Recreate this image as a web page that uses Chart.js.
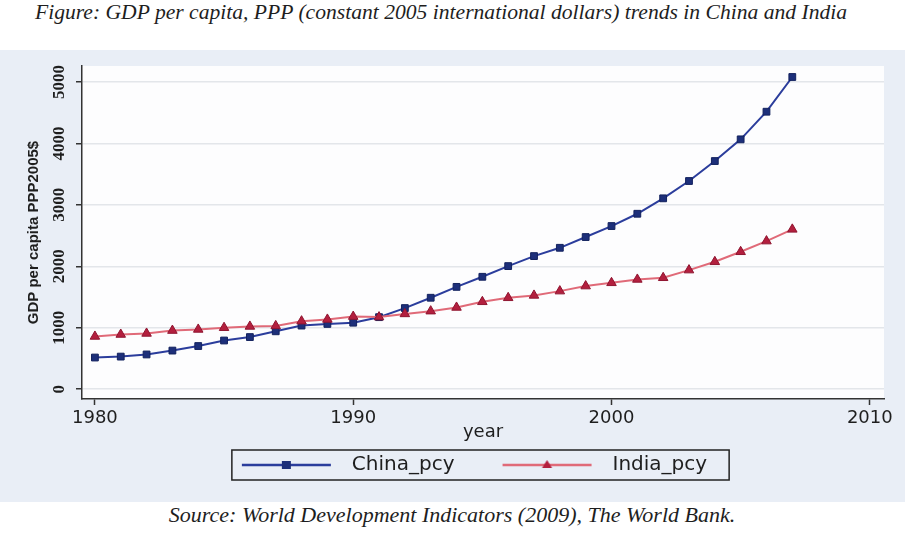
<!DOCTYPE html>
<html>
<head>
<meta charset="utf-8">
<script src="https://cdn.jsdelivr.net/npm/chart.js@4.4.1/dist/chart.umd.min.js"></script>
<style>
body { margin: 0; background: #fff; width: 910px; height: 546px; overflow: hidden; position: relative; }
#title { position: absolute; top: 0; left: 0; width: 882px; height: 50px; line-height: 37px; text-align: center; font: italic 21.6px "Liberation Serif", serif; color: #1e1e1e; }
#panel { position: absolute; top: 50px; left: 0; width: 905px; height: 452px; background: #e9eef6; }
#source { position: absolute; top: 502px; left: 0; width: 904px; height: 44px; line-height: 52px; text-align: center; font: italic 22px "Liberation Serif", serif; color: #1e1e1e; }
</style>
</head>
<body>
<div id="title">Figure: GDP per capita, PPP (constant 2005 international dollars) trends in China and India</div>
<div id="panel"><canvas id="myChart" width="905" height="452"></canvas></div>
<div id="source">Source: World Development Indicators (2009), The World Bank.</div>
<script>
var years = [1980, 1981, 1982, 1983, 1984, 1985, 1986, 1987, 1988, 1989,
             1990, 1991, 1992, 1993, 1994, 1995, 1996, 1997, 1998, 1999,
             2000, 2001, 2002, 2003, 2004, 2005, 2006, 2007];
var chinaPcy = [515, 530, 565, 628, 702, 792, 848, 942, 1035, 1062,
                1082, 1172, 1320, 1488, 1665, 1829, 2003, 2166, 2301, 2476,
                2655, 2855, 3106, 3388, 3713, 4066, 4516, 5081];
var indiaPcy = [858, 890, 907, 954, 972, 1000, 1021, 1030, 1107, 1135,
                1182, 1173, 1225, 1270, 1330, 1422, 1487, 1526, 1596, 1678,
                1731, 1786, 1813, 1938, 2073, 2236, 2410, 2601];
var xTicks = [1980, 1990, 2000, 2010];
var yTicks = [0, 1000, 2000, 3000, 4000, 5000];

function points(values) {
    return years.map(function(y, i) { return {x: y, y: values[i]}; });
}

// line + marker picture for the legend (blank on the left, line 89px)
function legendSample(lineColor, markColor, shape) {
    var c = document.createElement('canvas');
    c.width = 133;
    c.height = 14;
    var g = c.getContext('2d');
    g.strokeStyle = lineColor;
    g.lineWidth = 2.5;
    g.beginPath();
    g.moveTo(33, 7);
    g.lineTo(122, 7);
    g.stroke();
    g.fillStyle = markColor;
    if (shape === 'rect') {
        g.fillRect(73, 3, 9, 8);
    } else {
        g.beginPath();
        g.moveTo(77.5, 2);
        g.lineTo(82.5, 10);
        g.lineTo(72.5, 10);
        g.closePath();
        g.fill();
    }
    return c;
}
var samples = [
    legendSample('#2b3d9c', '#1d2f7a', 'rect'),
    legendSample('#e06a78', '#b31f3e', 'tri')
];

var decor = {
    id: 'decor',
    afterLayout: function(chart) {
        var lg = chart.legend;
        lg.left += 16;
        lg.right += 16;
        lg.top -= 3;
        lg.bottom -= 3;
    },
    beforeDraw: function(chart) {
        var a = chart.chartArea, ctx = chart.ctx;
        ctx.save();
        ctx.fillStyle = '#fdfdfe';
        ctx.fillRect(a.left, a.top, a.right - a.left, a.bottom - a.top);
        ctx.restore();
    },
    afterDraw: function(chart) {
        var ctx = chart.ctx, y = chart.scales.y;
        ctx.save();
        ctx.fillStyle = '#1e1e1e';
        ctx.font = 'bold 17px "Liberation Serif"';
        ctx.textAlign = 'center';
        ctx.textBaseline = 'middle';
        yTicks.forEach(function(v) {
            ctx.save();
            ctx.translate(60, y.getPixelForValue(v));
            ctx.rotate(-Math.PI / 2);
            ctx.fillText(String(v), 0, 0);
            ctx.restore();
        });
        var boxes = chart.legend.legendHitBoxes;
        var first = boxes[0], last = boxes[boxes.length - 1];
        var cy = first.top + first.height / 2;
        var x1 = first.left + 23, x2 = last.left + last.width + 22;
        ctx.strokeStyle = '#222';
        ctx.lineWidth = 1.5;
        ctx.strokeRect(x1, cy - 15, x2 - x1, 30);
        ctx.restore();
    }
};

var ctx = document.getElementById('myChart');
var myChart = new Chart(ctx, {
    type: 'line',
    data: {
        datasets: [{
            label: 'China_pcy',
            data: points(chinaPcy),
            borderColor: '#2b3d9c',
            borderWidth: 2,
            pointStyle: 'rect',
            pointRadius: 4.8,
            pointBackgroundColor: '#1d2f7a',
            pointBorderColor: '#13225e',
            pointBorderWidth: 1,
            tension: 0,
            order: 1
        }, {
            label: 'India_pcy',
            data: points(indiaPcy),
            borderColor: '#e06a78',
            borderWidth: 2,
            pointStyle: 'triangle',
            pointRadius: 5.5,
            pointBackgroundColor: '#b31f3e',
            pointBorderColor: '#8f1530',
            pointBorderWidth: 1,
            tension: 0,
            order: 0
        }]
    },
    options: {
        responsive: false,
        animation: false,
        devicePixelRatio: 1,
        layout: { padding: { left: 0, right: 21, top: 16, bottom: 14 } },
        plugins: {
            tooltip: { enabled: false },
            legend: {
                position: 'bottom',
                labels: {
                    usePointStyle: true,
                    pointStyleWidth: 133,
                    padding: 15,
                    color: '#1e1e1e',
                    font: { family: 'DejaVu Sans', size: 20 },
                    generateLabels: function(chart) {
                        return chart.data.datasets.map(function(ds, i) {
                            return {
                                text: ds.label,
                                pointStyle: samples[i],
                                fillStyle: ds.borderColor,
                                strokeStyle: ds.borderColor,
                                lineWidth: 0,
                                fontColor: '#1e1e1e',
                                hidden: false,
                                datasetIndex: i
                            };
                        });
                    }
                }
            }
        },
        scales: {
            x: {
                type: 'linear',
                min: 1979.5,
                max: 2010.55,
                afterBuildTicks: function(scale) {
                    scale.ticks = xTicks.map(function(v) { return {value: v}; });
                },
                afterFit: function(scale) { scale.height = 44; },
                ticks: {
                    autoSkip: false,
                    maxRotation: 0,
                    padding: 3,
                    color: '#1e1e1e',
                    font: { family: 'DejaVu Sans', size: 18 },
                    callback: function(v) { return String(v); }
                },
                grid: { drawOnChartArea: false, tickLength: 6, tickColor: '#333', tickWidth: 1.5 },
                border: { color: '#333', width: 1.5 },
                title: {
                    display: true,
                    text: 'year',
                    color: '#1e1e1e',
                    padding: 0,
                    font: { family: 'DejaVu Sans', size: 18 }
                }
            },
            y: {
                min: -160,
                max: 5260,
                afterBuildTicks: function(scale) {
                    scale.ticks = yTicks.map(function(v) { return {value: v}; });
                },
                afterFit: function(scale) { scale.width = 82; },
                ticks: { display: false },
                grid: { color: '#e3e6ea', lineWidth: 1.5, tickLength: 6, tickColor: '#333', tickWidth: 1.5 },
                border: { color: '#333', width: 1.5 },
                title: {
                    display: true,
                    text: 'GDP per capita PPP2005$',
                    color: '#1e1e1e',
                    padding: { top: 25, bottom: 0 },
                    font: { family: 'Liberation Sans', size: 15, weight: 'bold' }
                }
            }
        }
    },
    plugins: [decor]
});
</script>
</body>
</html>
